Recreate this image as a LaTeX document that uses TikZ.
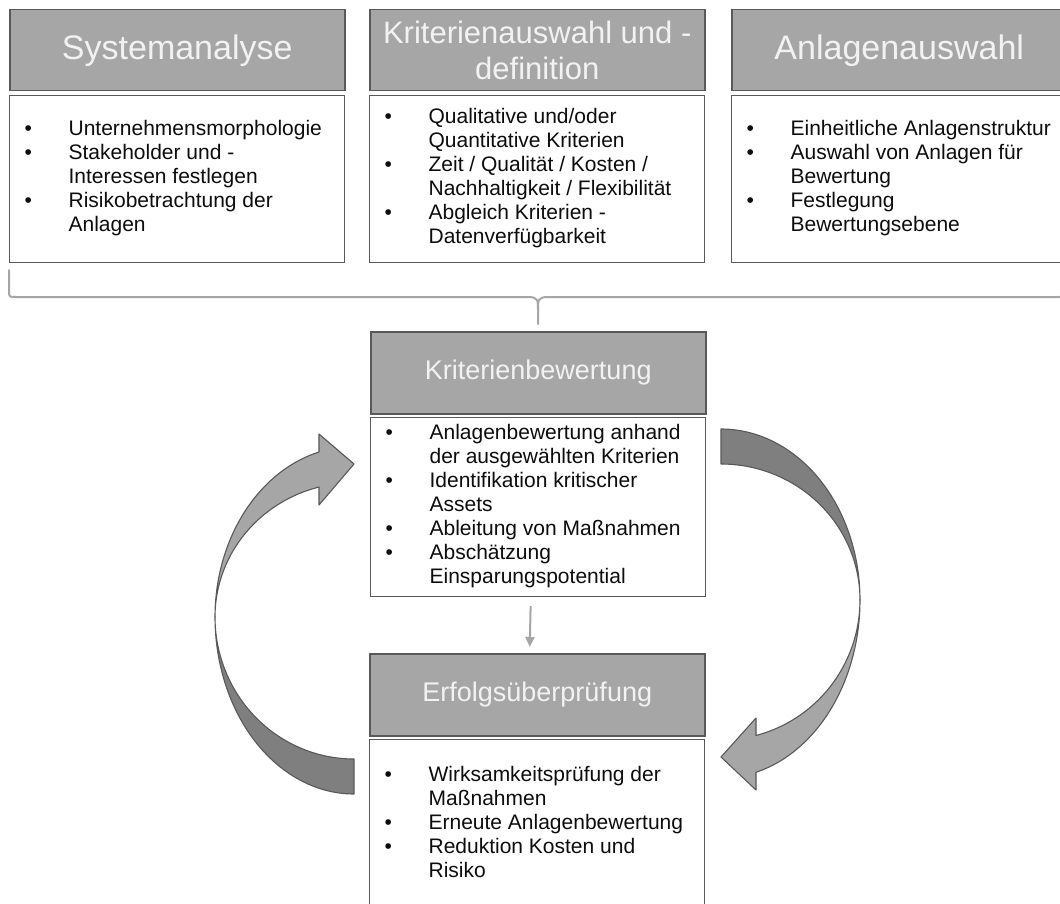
\documentclass[tikz,border=0pt]{standalone}
\usepackage{fontspec}
\setmainfont{Liberation Sans}
\usetikzlibrary{arrows.meta}

\definecolor{hdrfill}{HTML}{A6A6A6}
\definecolor{hdredge}{HTML}{595959}
\definecolor{hdrtext}{HTML}{F2F2F2}
\definecolor{boxedge}{HTML}{595959}
\definecolor{darkband}{HTML}{7F7F7F}
\definecolor{lightband}{HTML}{A6A6A6}
\definecolor{bracegray}{HTML}{A6A6A6}
\definecolor{bodytext}{HTML}{0D0D0D}

% bullet list: one row per printed line, hanging text column
\newcommand{\bulletrows}[1]{\makebox[335pt][l]{\fontsize{21}{24}\selectfont
  \begin{tabular}{@{\hspace{15pt}}p{44pt}@{}l@{}}#1\end{tabular}}}
\newcommand{\blt}{\textbullet}

\begin{document}
\begin{tikzpicture}[x=1pt,y=-1pt,
  hdr/.style={draw=hdredge, line width=1.5pt, fill=hdrfill, text=hdrtext,
    minimum width=335pt, inner sep=0pt, anchor=north west, align=center},
  bodybox/.style={draw=boxedge, line width=1.2pt, fill=white, text=bodytext,
    minimum width=335pt, inner sep=0pt, anchor=north west},
  band/.style={draw=hdredge, line width=1.1pt, line join=round},
  flow/.style={draw=bracegray, line width=2pt, -{Triangle[length=10pt,width=9pt]}},
  bracestyle/.style={draw=bracegray, line width=2pt, line cap=round, line join=round}]

\useasboundingbox (0,0) rectangle (1060,904);
\fill[white] (0,0) rectangle (1060,904);
\clip (0,0) rectangle (1060,904);

% top row: three phases
\node[hdr, minimum height=81pt, font=\fontsize{34}{40}\selectfont] (sa) at (9,9) {Systemanalyse};
\node[hdr, minimum height=81pt, font=\fontsize{31}{36}\selectfont] (ka) at (369,9) {Kriterienauswahl und -\\definition};
\node[hdr, minimum height=81pt, font=\fontsize{34}{40}\selectfont] (aa) at (731,9) {Anlagenauswahl};

\node[bodybox, minimum height=167pt] (sab) at (9,95) {\bulletrows{
  \blt & Unternehmensmorphologie\\
  \blt & Stakeholder und -\\
       & Interessen festlegen\\
  \blt & Risikobetrachtung der\\
       & Anlagen}};
\node[bodybox, minimum height=167pt] (kab) at (369,95) {\bulletrows{
  \blt & Qualitative und/oder\\
       & Quantitative Kriterien\\
  \blt & Zeit / Qualität / Kosten /\\
       & Nachhaltigkeit / Flexibilität\\
  \blt & Abgleich Kriterien -\\
       & Datenverfügbarkeit}};
\node[bodybox, minimum height=167pt] (aab) at (731,95) {\bulletrows{
  \blt & Einheitliche Anlagenstruktur\\
  \blt & Auswahl von Anlagen für\\
       & Bewertung\\
  \blt & Festlegung\\
       & Bewertungsebene}};

% brace gathering the top row
\draw[bracestyle] (sab.south west |- 0,270) -- (9,290) .. controls (9,297) .. (16,297)
  -- (528,297) .. controls (538,297) and (538,300) .. (538,310) -- (538,324);
\draw[bracestyle] (538,310) .. controls (538,300) and (538,297) .. (548,297)
  -- (1059,297) .. controls (1066,297) .. (aab.south east |- 0,290) -- (1066,270);

% evaluation
\node[hdr, minimum height=82pt, font=\fontsize{27}{32}\selectfont] (kb) at (370,331) {Kriterienbewertung};
\node[bodybox, minimum height=179pt] (kbb) at (370,417) {\bulletrows{
  \blt & Anlagenbewertung anhand\\
       & der ausgewählten Kriterien\\
  \blt & Identifikation kritischer\\
       & Assets\\
  \blt & Ableitung von Maßnahmen\\
  \blt & Abschätzung\\
       & Einsparungspotential}};

% success check
\node[hdr, minimum height=82pt, font=\fontsize{27}{32}\selectfont] (ef) at (369,653) {Erfolgsüberprüfung};
\node[bodybox, minimum height=170pt] (efb) at (369,739) {\bulletrows{
  \blt & Wirksamkeitsprüfung der\\
       & Maßnahmen\\
  \blt & Erneute Anlagenbewertung\\
  \blt & Reduktion Kosten und\\
       & Risiko}};

\draw[flow] ([xshift=-7.5pt,yshift=-9pt]kbb.south) -- ([xshift=-7.5pt,yshift=6pt]ef.north);

% right curved arrow: evaluation -> success check
\filldraw[band, fill=darkband]
  plot[domain=-90:0, samples=60] ({721+139*cos(\x)}, {600+171*sin(\x)})
  -- plot[domain=0:-90, samples=60] ({721+139*cos(\x)}, {600+136*sin(\x)}) -- cycle;
\filldraw[band, fill=lightband]
  plot[domain=0:75.4, samples=60] ({721+139*cos(\x)}, {600+178*sin(\x)})
  -- (756,790) -- (721,757) -- (756,718) -- (756,735.5)
  -- plot[domain=75.4:0, samples=60] ({721+139*cos(\x)}, {600+140*sin(\x)}) -- cycle;

% left curved arrow: success check -> evaluation
\filldraw[band, fill=darkband]
  plot[domain=90:180, samples=60] ({354+139*cos(\x)}, {617+177*sin(\x)})
  -- plot[domain=180:90, samples=60] ({354+139*cos(\x)}, {617+142*sin(\x)}) -- cycle;
\filldraw[band, fill=lightband]
  plot[domain=180:255.4, samples=60] ({354+139*cos(\x)}, {617+170.5*sin(\x)})
  -- (319,434) -- (354,464) -- (319,505) -- (319,487)
  -- plot[domain=255.4:180, samples=60] ({354+139*cos(\x)}, {617+134.3*sin(\x)}) -- cycle;

\end{tikzpicture}
\end{document}
